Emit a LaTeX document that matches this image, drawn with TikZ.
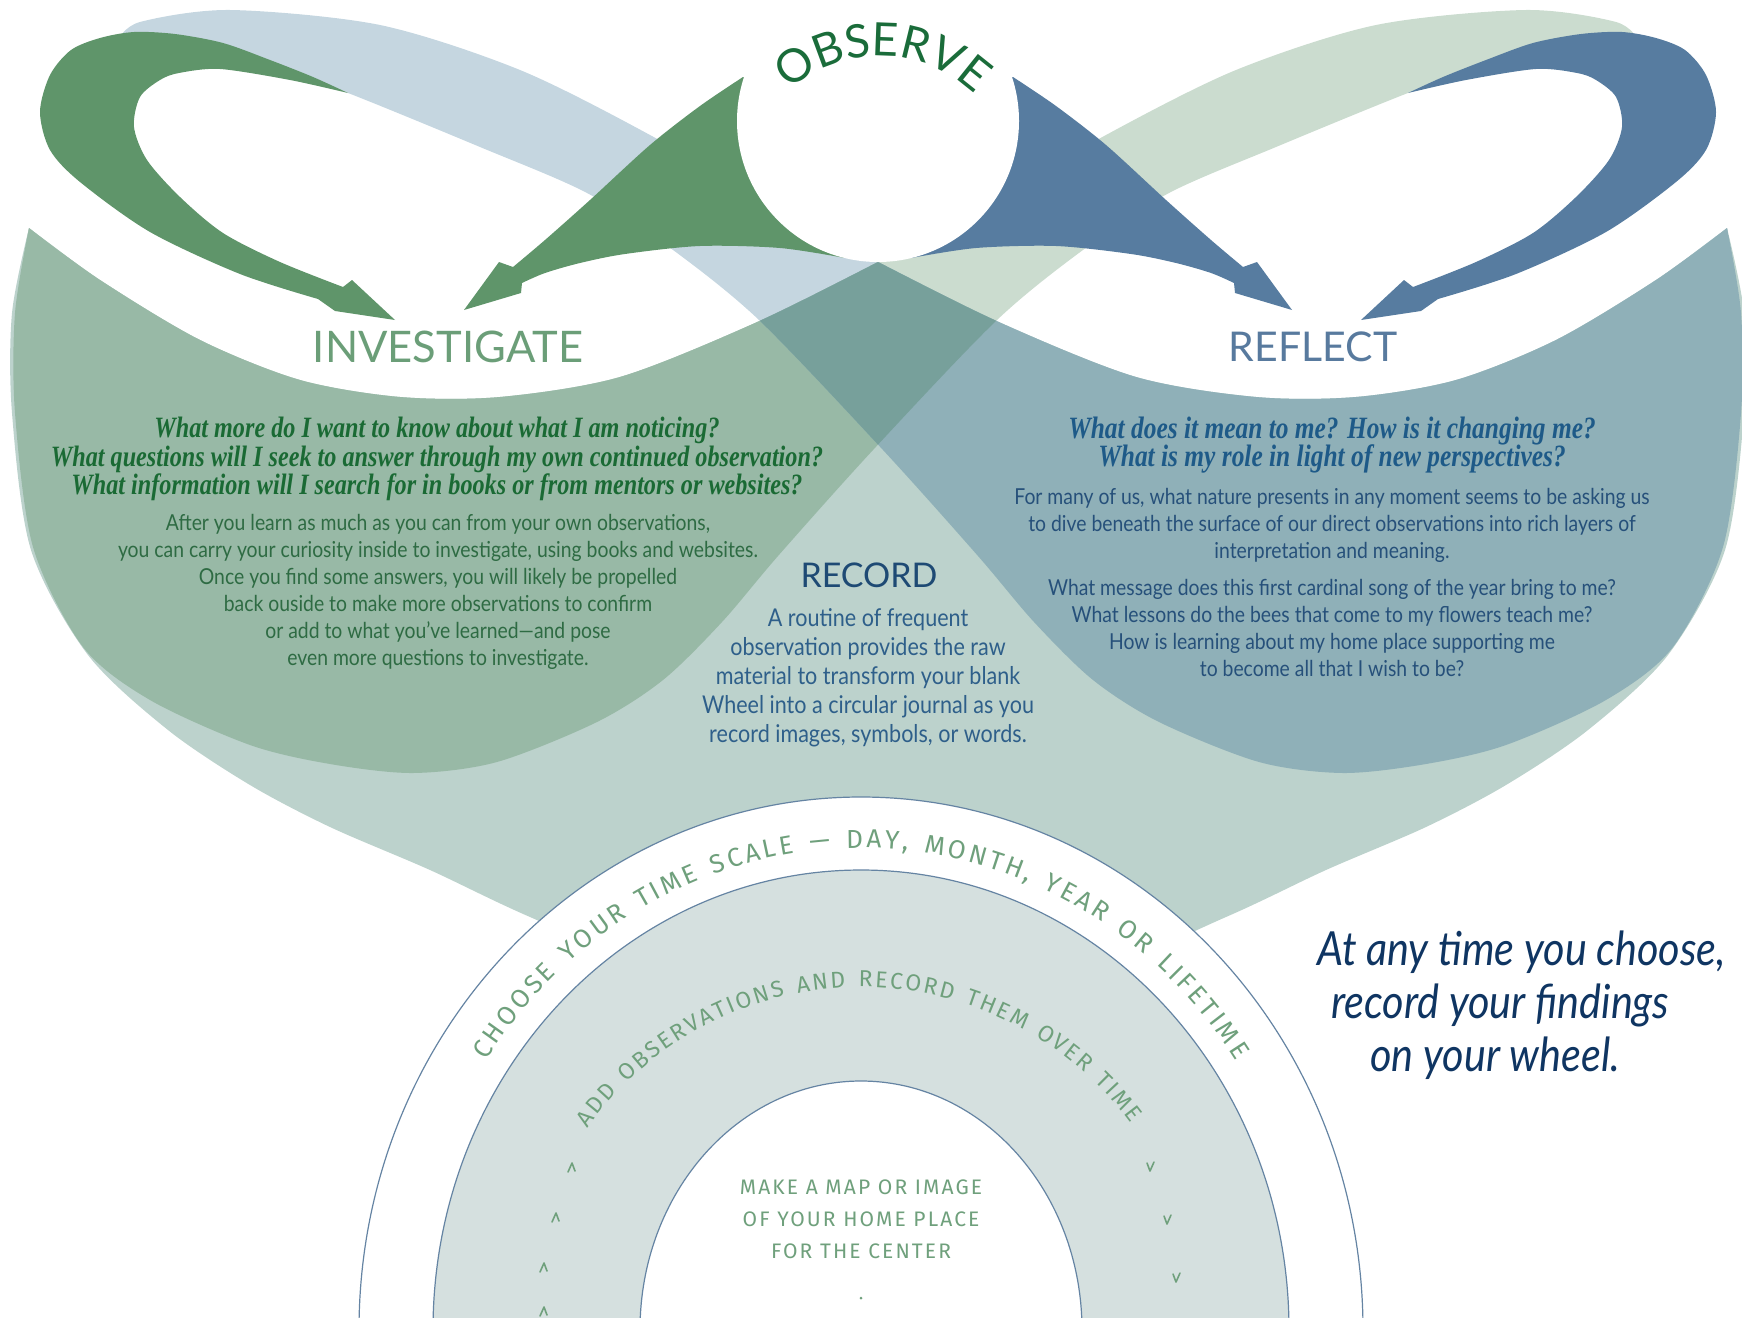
\documentclass[tikz,border=0pt]{standalone}
\usepackage{fontspec}
\setmainfont{Lato}
\newfontfamily\headfont{Lato}
\newfontfamily\bodyfont[FakeStretch=0.88]{Lato}
\newfontfamily\askfont[FakeStretch=0.82]{Liberation Serif}
\newfontfamily\handfont[LetterSpace=10]{Fira Sans}
\usetikzlibrary{decorations.text}

\definecolor{bandblue}{HTML}{C5D6E0}
\definecolor{bandgreen}{HTML}{CBDCCF}
\definecolor{bowlfill}{HTML}{BCD2CC}
\definecolor{lobegreen}{HTML}{98B9A6}
\definecolor{lobeblue}{HTML}{8FB0B8}
\definecolor{lobemix}{HTML}{77A09B}
\definecolor{arrowgreen}{HTML}{5F956A}
\definecolor{arrowblue}{HTML}{577CA0}
\definecolor{observecol}{HTML}{1A6C3A}
\definecolor{investcol}{HTML}{6B9E78}
\definecolor{reflectcol}{HTML}{587A9E}
\definecolor{recordcol}{HTML}{1E4A74}
\definecolor{askgreen}{HTML}{1A6A34}
\definecolor{askblue}{HTML}{1E5A88}
\definecolor{bodygreen}{HTML}{2E6B43}
\definecolor{bodyblue}{HTML}{26507A}
\definecolor{recordbody}{HTML}{2E5F8A}
\definecolor{tagcol}{HTML}{0F3562}
\definecolor{ringfill}{HTML}{D5E0DF}
\definecolor{ringline}{HTML}{6584A3}
\definecolor{handgreen}{HTML}{6FA07C}

% one leaf of the figure eight (the blue one is its mirror image)
\newcommand{\lenspath}{plot[smooth] coordinates {(29,228) (100,280) (200,340) (300,380) (400,397) (500,397) (620,377) (755,323) (878,262) (996,200) (1106,135) (1236,70) (1376,25) (1526,10) (1616,22) (1638,40)}
 -- plot[smooth] coordinates {(1638,40) (1606,50) (1533,60) (1466,74) (1408,93) (1276,147) (1169,193) (1087,247) (997,320) (873,450) (778,556) (722,622) (663,680) (597,722) (497,762) (413,773) (330,764) (250,745) (150,700) (83,647) (33,547) (15,413) (15,313) (29,228)} -- cycle}

% the bowl under both leaves
\newcommand{\bowlpath}{plot[smooth] coordinates {(29,228) (100,280) (200,340) (300,380) (400,397) (500,397) (620,377) (755,323) (878,262)}
 -- plot[smooth] coordinates {(878,262) (1001,323) (1136,377) (1256,397) (1356,397) (1456,380) (1556,340) (1656,280) (1727,228)}
 -- plot[smooth] coordinates {(1727,228) (1744,313) (1744,413) (1725,550) (1668,655) (1588,730) (1506,785) (1426,827) (1326,870) (1226,917) (1050,990) (878,1010) (706,990) (530,917) (430,870) (330,827) (250,785) (168,730) (88,655) (31,550) (12,413) (12,313) (29,228)} -- cycle}

% looping arrow and wedge arrow on the left (mirrored for the right side)
\newcommand{\looparrow}{plot[smooth] coordinates {(348,93) (313,77) (270,60) (223,43) (175,34) (134,32) (100,38) (71,50) (50,75) (40,112) (50,150) (80,182) (150,232) (240,274) (318,299)}
 -- (335,311) -- (395,320) -- (352,280)
 -- plot[smooth] coordinates {(343,287) (280,262) (223,233) (180,197) (147,160) (134,127) (140,97) (160,80) (179,73) (220,69) (290,80) (348,93)} -- cycle}
\newcommand{\wedgearrow}{plot[smooth] coordinates {(743,77) (700,106) (650,145) (590,200) (545,240) (513,267)}
 -- (499,262) -- (464,310) -- (521,293) -- (522,283)
 -- plot[smooth] coordinates {(522,283) (545,273) (580,263) (625,254) (700,246) (780,248) (845,258)} -- (850,120) -- cycle}

\begin{document}
\begin{tikzpicture}[x=1pt, y=-1pt]

    % Define styles
    \tikzstyle{headtext} = [inner sep=0pt, font=\headfont\fontsize{42}{46}\selectfont]
    \tikzstyle{asktext} = [inner sep=0pt, align=center, font=\askfont\bfseries\itshape\fontsize{29.5}{28.5}\selectfont]
    \tikzstyle{lobetext} = [inner sep=0pt, align=center, font=\bodyfont\fontsize{22}{27}\selectfont]
    \tikzstyle{handtext} = [inner sep=0pt, align=center, text=handgreen, font=\handfont\fontsize{21}{32}\selectfont]
    \tikzstyle{wheelring} = [draw=ringline, line width=1.2pt]
    \tikzstyle{handmark} = [draw=handgreen, line width=1.6pt, line cap=round, line join=round]
    \tikzstyle{mirror} = [xshift=1756pt, xscale=-1]

    \useasboundingbox (0,0) rectangle (1742,1317);
    \clip (0,0) rectangle (1742,1317);

    % Leaves and bowl
    \fill[bandgreen] \lenspath;
    \begin{scope}[mirror]
        \fill[bandblue] \lenspath;
    \end{scope}
    \fill[bowlfill] \bowlpath;
    \begin{scope}
        \clip \bowlpath;
        \fill[lobegreen] \lenspath;
        \begin{scope}[mirror]
            \fill[lobeblue] \lenspath;
        \end{scope}
        \clip \lenspath;
        \begin{scope}[mirror]
            \fill[lobemix] \lenspath;
        \end{scope}
    \end{scope}

    % Arrows
    \fill[arrowgreen] \looparrow;
    \fill[arrowgreen] \wedgearrow;
    \begin{scope}[mirror]
        \fill[arrowblue] \looparrow;
        \fill[arrowblue] \wedgearrow;
    \end{scope}

    % Observe circle
    \fill[white] (878,121) circle (141);
    \path[decorate, decoration={text along path, text align={fit to path},
        text={|\headfont\fontsize{46}{46}\selectfont\color{observecol}|OBSERVE}}]
        (880,192) ++(228:136) arc[start angle=228, end angle=314, radius=136];

    % Wheel
    \filldraw[wheelring, fill=white] (861,1330) ellipse [x radius=502, y radius=533];
    \filldraw[wheelring, fill=ringfill] (861,1330) ellipse [x radius=428, y radius=460];
    \filldraw[wheelring, fill=white] (861,1330) ellipse [x radius=221, y radius=249];
    \path[decorate, decoration={text along path, text align={fit to path},
        text={|\handfont\fontsize{26}{26}\selectfont\color{handgreen}|CHOOSE YOUR TIME SCALE — DAY, MONTH, YEAR OR LIFETIME}}]
        (861,1330) ++(214:452 and 482) arc[start angle=214, end angle=326, x radius=452, y radius=482];
    \path[decorate, decoration={text along path, text align={fit to path},
        text={|\handfont\fontsize{23}{23}\selectfont\color{handgreen}|ADD OBSERVATIONS AND RECORD THEM OVER TIME}}]
        (861,1330) ++(216:338 and 343) arc[start angle=216, end angle=323, x radius=338, y radius=343];
    \foreach \x/\y in {572/1167, 556/1217, 544/1267, 544/1311}
        \draw[handmark] (\x-4,\y+5) -- (\x,\y-4) -- (\x+3,\y+4);
    \foreach \x/\y in {1150/1167, 1167/1220, 1176/1278}
        \draw[handmark] (\x-3,\y-4) -- (\x,\y+4) -- (\x+4,\y-5);
    \fill[handgreen] (861,1298) circle (1.5);
    \node[handtext] (centre) at (861,1219) {MAKE A MAP OR IMAGE\\OF YOUR HOME PLACE\\FOR THE CENTER};

    % Place headings
    \node[headtext, text=investcol, font=\headfont\fontsize{43.5}{46}\selectfont] (investigate) at (448,347) {INVESTIGATE};
    \node[headtext, text=reflectcol, font=\headfont\fontsize{41}{46}\selectfont] (reflect) at (1313,347) {REFLECT};
    \node[headtext, text=recordcol, font=\headfont\fontsize{34}{38}\selectfont] (record) at (869,575) {RECORD};

    % Place texts
    \node[asktext, text=askgreen] (askleft) at (437,459) {What more do I want to know about what I am noticing?\\
        What questions will I seek to answer through my own continued observation?\\
        What information will I search for in books or from mentors or websites?};
    \node[asktext, text=askblue, font=\askfont\bfseries\itshape\fontsize{31}{28.5}\selectfont] (askright) at (1332,445) {What does it mean to me? How is it changing me?\\
        What is my role in light of new perspectives?};
    \node[lobetext, text=bodygreen] (bodyleft) at (438,592) {After you learn as much as you can from your own observations,\\
        you can carry your curiosity inside to investigate, using books and websites.\\
        Once you find some answers, you will likely be propelled\\
        back ouside to make more observations to confirm\\
        or add to what you’ve learned—and pose\\
        even more questions to investigate.};
    \node[lobetext, text=bodyblue] (bodyright) at (1332,582) {For many of us, what nature presents in any moment seems to be asking us\\
        to dive beneath the surface of our direct observations into rich layers of\\
        interpretation and meaning.\\[10pt]
        What message does this first cardinal song of the year bring to me?\\
        What lessons do the bees that come to my flowers teach me?\\
        How is learning about my home place supporting me\\
        to become all that I wish to be?};
    \node[lobetext, text=recordbody, font=\bodyfont\fontsize{24.5}{29}\selectfont] (bodyrecord) at (868,678) {A routine of frequent\\
        observation provides the raw\\
        material to transform your blank\\
        Wheel into a circular journal as you\\
        record images, symbols, or words.};
    \node[inner sep=0pt, anchor=west, align=left, text=tagcol, font=\bodyfont\itshape\fontsize{47}{53}\selectfont] (tagline) at (1317,1005) {At any time you choose,\\
        \hspace*{14pt}record your findings\\
        \hspace*{53pt}on your wheel.};

\end{tikzpicture}
\end{document}
